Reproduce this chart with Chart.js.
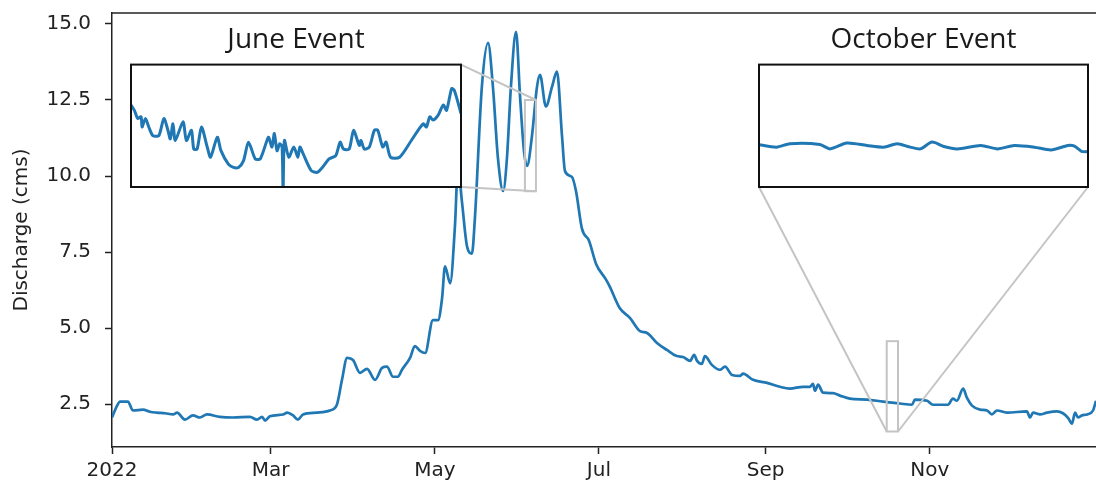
<!DOCTYPE html>
<html>
<head>
<meta charset="utf-8">
<script src="https://cdn.jsdelivr.net/npm/chart.js@4.4.1/dist/chart.umd.min.js"></script>
<style>
  html, body { margin: 0; padding: 0; background: #fff; }
  #wrap { position: relative; width: 1096px; height: 487px; overflow: hidden; }
  #main { position: absolute; left: 0; top: 0; }
  .inset { position: absolute; }
</style>
</head>
<body>
<div id="wrap">
  <canvas id="main" width="1096" height="487"></canvas>
  <div class="inset" id="june-box" style="left:130px;top:22px;"><canvas id="june" width="332" height="166"></canvas></div>
  <div class="inset" id="october-box" style="left:758px;top:22px;"><canvas id="october" width="331" height="166"></canvas></div>
</div>
<script>
// daily discharge, day of year 2022 (0 = Jan 1)
const days = [
  0, 1.9, 3.0, 5.9, 7.8, 11.5, 14.1, 16.7, 19.7, 22.7, 24.2, 27.1, 30.1, 32.7, 35.3, 40.1,
  45.0, 51.3, 53.9, 55.8, 56.9, 58.7, 63.6, 65.1, 67.3, 69.1, 71.0, 76.2, 81.0, 83.6, 85.5,
  87.4, 89.6, 92.2, 94.8, 97.8, 100.4, 102.2, 104.5, 106.3, 107.8, 110.8, 112.6, 114.5, 116.4,
  119.3, 121.2, 122.7, 123.8, 125.7, 127.5, 128.6, 130.1, 132.0, 133.8, 134.9, 137.5, 139.8,
  141.6, 143.5, 145.4, 146.8, 148.3, 150.2, 151.7, 153.2, 154.3, 156.1, 158.0, 159.1, 161.3,
  163.6, 165.4, 167.3, 168.4, 171.0, 172.5, 174.7, 177.3, 180.0, 183.6, 185.0, 188.8, 192.6,
  196.3, 198.9, 202.6, 206.3, 210.0, 212.3, 214.9, 216.4, 217.5, 219.3, 220.4, 223.0, 226.0,
  227.9, 230.5, 233.5, 234.6, 238.3, 243.5, 248.3, 252.0, 256.9, 259.5, 260.6, 261.3, 262.5,
  264.3, 268.0, 270.6, 274.3, 280.7, 286.6, 292.9, 297.4, 298.5, 303.0, 305.2, 308.9, 310.8,
  312.6, 314.1, 316.4, 317.8, 319.7, 322.7, 325.3, 327.1, 329.0, 332.7, 340.1, 341.3, 342.4,
  345.0, 347.6, 351.3, 353.5, 355.4, 356.9, 358.0, 359.1, 360.6, 362.5, 364.7, 365.8
];
const discharge = [
  2.06, 2.45, 2.58, 2.58, 2.29, 2.32, 2.25, 2.22, 2.20, 2.16, 2.22, 1.99, 2.13, 2.06, 2.16, 2.08,
  2.06, 2.08, 1.99, 2.08, 1.96, 2.10, 2.16, 2.22, 2.13, 1.99, 2.16, 2.22, 2.29, 2.48, 3.30,
  4.02, 3.95, 3.53, 3.66, 3.30, 3.69, 3.73, 3.40, 3.40, 3.63, 4.02, 4.41, 4.25, 4.18,
  5.26, 5.26, 5.98, 7.03, 6.47, 8.37, 10.30, 9.15, 7.68, 7.45, 8.60, 12.94, 14.38,
  12.94, 10.56, 9.51, 10.56, 12.94, 14.74, 12.60, 10.78, 10.33, 11.30, 12.94, 13.33, 12.29,
  12.94, 13.43, 11.30, 10.16, 9.97, 9.50, 8.27, 7.88, 7.10, 6.60, 6.37, 5.65, 5.33,
  4.90, 4.84, 4.51, 4.28, 4.08, 4.05, 3.92, 4.12, 3.92, 3.82, 4.08, 3.79, 3.63,
  3.73, 3.46, 3.43, 3.50, 3.30, 3.20, 3.07, 3.01, 3.07, 3.07, 3.17, 2.94, 3.14,
  2.88, 2.86, 2.78, 2.68, 2.65, 2.58, 2.52, 2.48, 2.65, 2.61, 2.48, 2.48, 2.48,
  2.68, 2.61, 3.01, 2.71, 2.45, 2.32, 2.29, 2.16, 2.29, 2.22, 2.26, 2.06, 2.22,
  2.16, 2.22, 2.26, 2.20, 2.05, 1.86, 2.22, 2.06, 2.13, 2.16, 2.29, 2.61
];

const yTicks = [2.5, 5.0, 7.5, 10.0, 12.5, 15.0];
const monthTicks = [0, 59, 120, 181, 243, 304];
const monthLabels = ["2022", "Mar", "May", "Jul", "Sep", "Nov"];

// zoomed windows: [first day, last day, low, high]
const juneZoom = [153.5, 157.6, 9.5, 12.5];
const octoberZoom = [288.0, 292.2, 1.6, 4.57];

// high-frequency records inside the windows (hours from window start)
const juneHours = [
  0, 1.0, 2.0, 3.0, 3.3, 4.3, 5.3, 6.5, 8.3, 9.8, 11.0, 11.7, 12.5, 13.2, 15.5, 16.5, 18.0,
  18.7, 19.7, 21.0, 22.7, 23.7, 25.7, 26.8, 29.0, 30.5, 32.0, 33.5, 35.0, 37.0, 38.5, 40.5,
  41.0, 42.0, 42.7, 43.5, 44.3, 45.0, 45.3, 45.7, 47.0, 48.5, 49.7, 50.3, 51.3, 53.7, 55.5,
  57.0, 59.0, 61.0, 62.3, 63.3, 65.0, 66.3, 68.0, 68.5, 69.5, 71.0, 72.5, 73.5, 75.0, 76.0,
  77.3, 80.0, 83.5, 87.0, 88.0, 89.0, 90.0, 91.5, 93.0, 94.0, 95.5, 96.3, 98.3
];
const juneFlow = [
  11.51, 11.38, 11.18, 11.22, 10.97, 11.18, 10.97, 10.76, 10.76, 11.18, 10.89, 10.68, 11.05, 10.64, 11.10, 10.64, 10.89,
  10.43, 10.43, 10.97, 10.48, 10.23, 10.72, 10.39, 10.06, 9.98, 9.98, 10.14, 10.60, 10.19, 10.19, 10.64,
  10.72, 10.48, 10.81, 10.39, 10.56, 10.48, 9.40, 10.64, 10.23, 10.48, 10.23, 10.48, 10.31, 9.90, 9.86,
  9.98, 10.19, 10.27, 10.60, 10.43, 10.43, 10.89, 10.52, 10.64, 10.43, 10.48, 10.89, 10.89, 10.48, 10.60,
  10.23, 10.23, 10.64, 11.05, 10.97, 11.22, 11.14, 11.26, 11.51, 11.38, 11.91, 11.87, 11.30
];
const octoberHours = [
  0, 5.3, 9.4, 18.5, 21.6, 26.7, 32.8, 37.9, 42.0, 46.0, 49.1, 52.6, 56.2, 60.3, 67.4,
  72.5, 77.6, 83.7, 88.8, 93.9, 95.9, 98.0, 100.0
];
const octoberFlow = [
  2.625, 2.567, 2.650, 2.633, 2.525, 2.667, 2.608, 2.567, 2.650, 2.567, 2.525, 2.692, 2.583, 2.525, 2.608,
  2.525, 2.608, 2.567, 2.500, 2.608, 2.590, 2.467, 2.458
];

const BLUE = "#1f77b4";
const INK = "#222222";
const LINK = "#c4c4c4";

Chart.defaults.font.family = "'DejaVu Sans', sans-serif";
Chart.defaults.color = INK;

const insetFrame = {
  id: "insetFrame",
  beforeDatasetsDraw(chart) {
    const { ctx, chartArea: a } = chart;
    ctx.save();
    ctx.fillStyle = "#fff";
    ctx.fillRect(a.left, a.top, a.right - a.left, a.bottom - a.top);
    ctx.restore();
  },
  afterDraw(chart) {
    const { ctx, chartArea: a } = chart;
    ctx.save();
    ctx.strokeStyle = "#111";
    ctx.lineWidth = 2;
    ctx.strokeRect(a.left, a.top, a.right - a.left, a.bottom - a.top);
    ctx.restore();
  },
};

function makeInset(canvasId, title, hours, flow, zoom) {
  return new Chart(document.getElementById(canvasId), {
    type: "line",
    data: {
      datasets: [
        {
          data: hours.map((h, i) => ({ x: h, y: flow[i] })),
          borderColor: BLUE,
          borderWidth: 3,
          borderJoinStyle: "round",
          pointRadius: 0,
          tension: 0.25,
        },
      ],
    },
    options: {
      responsive: false,
      animation: false,
      layout: { padding: { left: 1, right: 1, top: 0, bottom: 1 } },
      plugins: {
        legend: { display: false },
        tooltip: { enabled: false },
        title: {
          display: true,
          text: title,
          font: { family: "'Open Sans', sans-serif", size: 28, weight: "normal" },
          color: "#1a1a1a",
          padding: { top: 1, bottom: 8 },
        },
      },
      scales: {
        x: { type: "linear", display: false, min: hours[0], max: hours[hours.length - 1] },
        y: { display: false, min: zoom[2], max: zoom[3] },
      },
    },
    plugins: [insetFrame],
  });
}

const juneInset = makeInset("june", "June Event", juneHours, juneFlow, juneZoom);
const octoberInset = makeInset("october", "October Event", octoberHours, octoberFlow, octoberZoom);

// which corners of inset and zoom box get joined
const zoomLinks = [
  { inset: juneInset, box: "june-box", zoom: juneZoom, corners: [["right", "top"], ["right", "bottom"]] },
  { inset: octoberInset, box: "october-box", zoom: octoberZoom, corners: [["left", "bottom"], ["right", "bottom"]] },
];

const mainFrame = {
  id: "mainFrame",
  afterDatasetsDraw(chart) {
    const { ctx, chartArea: a, scales: { x, y } } = chart;
    ctx.save();
    ctx.strokeStyle = INK;
    ctx.lineWidth = 1.5;
    ctx.beginPath();
    ctx.moveTo(a.left, a.top);
    ctx.lineTo(a.right, a.top);
    ctx.stroke();

    ctx.strokeStyle = LINK;
    ctx.lineWidth = 2;
    zoomLinks.forEach((link) => {
      const z = {
        left: x.getPixelForValue(link.zoom[0]),
        right: x.getPixelForValue(link.zoom[1]),
        bottom: y.getPixelForValue(link.zoom[2]),
        top: y.getPixelForValue(link.zoom[3]),
      };
      ctx.strokeRect(z.left, z.top, z.right - z.left, z.bottom - z.top);
      const box = document.getElementById(link.box);
      const ia = link.inset.chartArea;
      link.corners.forEach(([h, v]) => {
        ctx.beginPath();
        ctx.moveTo(box.offsetLeft + ia[h], box.offsetTop + ia[v]);
        ctx.lineTo(z[h], z[v]);
        ctx.stroke();
      });
    });
    ctx.restore();
  },
};

new Chart(document.getElementById("main"), {
  type: "line",
  data: {
    datasets: [
      {
        data: days.map((d, i) => ({ x: d, y: discharge[i] })),
        borderColor: BLUE,
        borderWidth: 2.7,
        pointRadius: 0,
        cubicInterpolationMode: "monotone",
      },
    ],
  },
  options: {
    responsive: false,
    animation: false,
    layout: { padding: { top: 13, right: 0, bottom: 0, left: 0 } },
    plugins: { legend: { display: false }, tooltip: { enabled: false } },
    scales: {
      x: {
        type: "linear",
        min: 0,
        max: 365.8,
        afterBuildTicks: (scale) => {
          scale.ticks = monthTicks.map((v) => ({ value: v }));
        },
        afterFit: (scale) => {
          scale.height = 40;
          scale.paddingLeft = 0;
          scale.paddingRight = 0;
        },
        ticks: {
          callback: (v) => monthLabels[monthTicks.indexOf(v)],
          font: { size: 20 },
          color: INK,
          padding: 5,
          maxRotation: 0,
          autoSkip: false,
        },
        grid: { drawOnChartArea: false, drawTicks: true, tickLength: 7, tickColor: INK, tickWidth: 1.5 },
        border: { display: true, color: INK, width: 1.5 },
      },
      y: {
        min: 1.09,
        max: 15.36,
        afterBuildTicks: (scale) => {
          scale.ticks = yTicks.map((v) => ({ value: v }));
        },
        afterFit: (scale) => {
          scale.width = 112;
          scale.paddingTop = 0;
          scale.paddingBottom = 0;
        },
        ticks: {
          callback: (v) => v.toFixed(1),
          font: { size: 20 },
          color: INK,
          padding: 14,
        },
        grid: { drawOnChartArea: false, drawTicks: true, tickLength: 7, tickColor: INK, tickWidth: 1.5 },
        border: { display: true, color: INK, width: 1.5 },
        title: {
          display: true,
          text: "Discharge (cms)",
          font: { size: 20 },
          color: INK,
          padding: { top: 10, bottom: 0 },
        },
      },
    },
  },
  plugins: [mainFrame],
});
</script>
</body>
</html>
